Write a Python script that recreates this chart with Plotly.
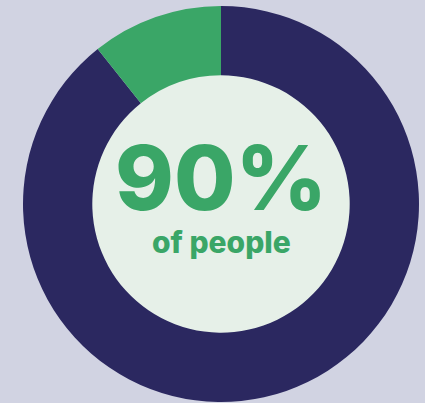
import plotly.graph_objects as go

labels = ["Other", "Of people"]
values = [89.3, 10.7]
colors = ["#2b2860", "#3aa667"]
big_text = "90%"
sub_text = "of people"

W, H = 425, 403
cx, cy, R = 221, 204, 198
hole = 0.65

fig = go.Figure(go.Pie(
    labels=labels, values=values, hole=hole, sort=False, direction="clockwise",
    rotation=0, marker=dict(colors=colors, line=dict(width=0)),
    textinfo="none", hoverinfo="skip", showlegend=False,
    domain=dict(x=[(cx - R) / W, (cx + R) / W], y=[1 - (cy + R) / H, 1 - (cy - R) / H]),
))

r_in = R * hole + 1
fig.add_shape(type="circle", xref="paper", yref="paper", layer="below",
              x0=(cx - r_in) / W, x1=(cx + r_in) / W,
              y0=1 - (cy + r_in) / H, y1=1 - (cy - r_in) / H,
              fillcolor="#e6f0e8", line=dict(width=0))

fig.add_annotation(text=big_text, x=cx / W, y=1 - 178 / H, xref="paper", yref="paper",
                   showarrow=False, xanchor="center", yanchor="middle",
                   font=dict(family="Inter", size=89, color="#3aa667", weight=800))
fig.add_annotation(text=sub_text, x=cx / W, y=1 - 242 / H, xref="paper", yref="paper",
                   showarrow=False, xanchor="center", yanchor="middle",
                   font=dict(family="Inter", size=30, color="#3aa667", weight=800))

fig.update_layout(width=W, height=H, margin=dict(l=0, r=0, t=0, b=0),
                  paper_bgcolor="#d1d3e2", plot_bgcolor="#d1d3e2")
fig.write_html("out.html")
